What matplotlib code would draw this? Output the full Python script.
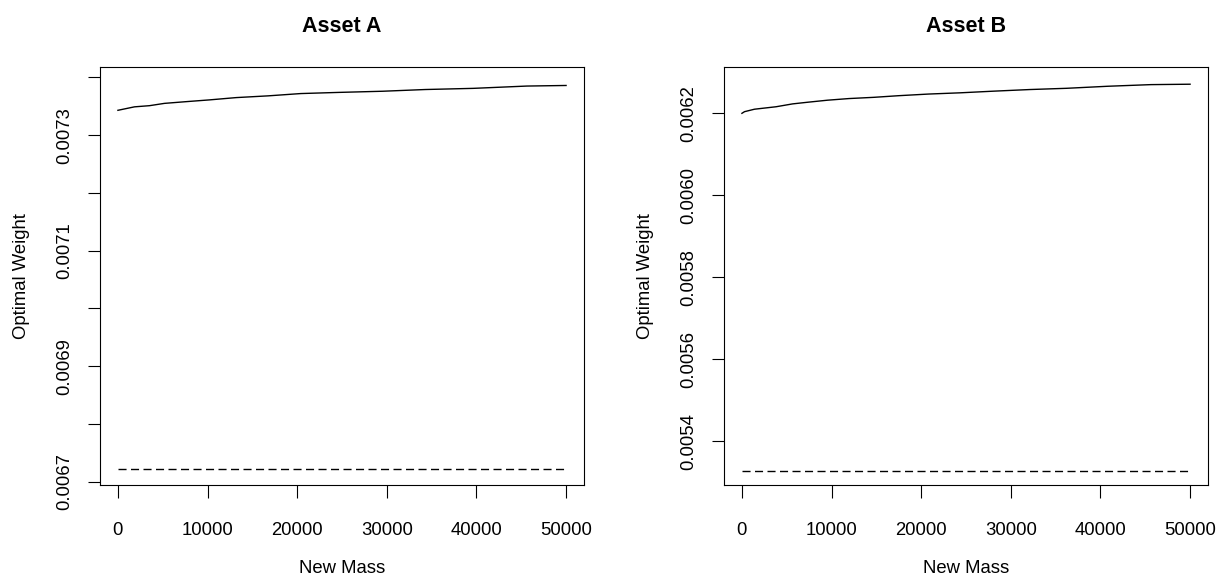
import matplotlib
matplotlib.use("Agg")
import matplotlib.pyplot as plt

plt.rcParams['font.family'] = ['Liberation Sans', 'DejaVu Sans']
plt.rcParams['lines.scale_dashes'] = False

# ---- data ----
mass_a = [0, 1850, 3520, 5190, 7630, 10190, 13190, 16740, 20410, 24630,
          29520, 34300, 39630, 45630, 50000]
weight_a = [0.007343, 0.007349, 0.007351, 0.007355, 0.007358, 0.007361,
            0.007365, 0.007368, 0.007372, 0.007374, 0.007376, 0.007379,
            0.007381, 0.007385, 0.007386]
base_mass_a = [0, 50000]
base_weight_a = [0.006722, 0.006722]

mass_b = [0, 290, 1400, 3810, 5660, 7330, 9550, 11950, 14720, 17500, 20830,
          24350, 28050, 32120, 36200, 40820, 45640, 50000]
weight_b = [0.006200, 0.006204, 0.006210, 0.006216, 0.006223, 0.006227,
            0.006232, 0.006236, 0.006239, 0.006243, 0.006247, 0.006250,
            0.006254, 0.006258, 0.006261, 0.006266, 0.006270, 0.006271]
base_mass_b = [0, 50000]
base_weight_b = [0.005328, 0.005328]

titles = ["Asset A", "Asset B"]
x_ticks = [0, 10000, 20000, 30000, 40000, 50000]
y_ticks_a = [0.0067, 0.0068, 0.0069, 0.0070, 0.0071, 0.0072, 0.0073, 0.0074]
y_labels_a = ["0.0067", "", "0.0069", "", "0.0071", "", "0.0073", ""]
y_ticks_b = [0.0054, 0.0056, 0.0058, 0.0060, 0.0062]
y_labels_b = ["0.0054", "0.0056", "0.0058", "0.0060", "0.0062"]

W, H = 1218, 576
fig = plt.figure(figsize=(W / 100, H / 100), dpi=100)

def px_axes(l, t, r, b):
    return fig.add_axes([l / W, 1 - b / H, (r - l) / W, (b - t) / H])

panels = [
    (px_axes(100, 67, 584, 485), mass_a, weight_a, base_mass_a, base_weight_a,
     y_ticks_a, y_labels_a, (0.006694, 0.007418)),
    (px_axes(724, 67, 1208, 485), mass_b, weight_b, base_mass_b, base_weight_b,
     y_ticks_b, y_labels_b, (0.005293, 0.006313)),
]

FS = 13.3
for (ax, mx, wy, bx, by, yt, yl, ylim), title in zip(panels, titles):
    ax.plot(mx, wy, color='black', lw=1.0)
    dl, = ax.plot(bx, by, color='black', lw=1.0)
    dl.set_dashes([5.8, 3.2])
    ax.set_xlim(-2000, 52000)
    ax.set_ylim(*ylim)
    ax.set_xticks(x_ticks)
    ax.set_xticklabels([str(v) for v in x_ticks], fontsize=FS)
    ax.set_yticks(yt)
    ax.set_yticklabels(yl, fontsize=FS, rotation=90, va='center')
    ax.tick_params(axis='both', length=9, width=0.8, color='black')
    ax.tick_params(axis='x', pad=17.5)
    ax.tick_params(axis='y', pad=10.5)
    for s in ax.spines.values():
        s.set_linewidth(0.8)
        s.set_color('black')
    ax.set_xlabel("New Mass", fontsize=FS, labelpad=15)
    ax.set_ylabel("Optimal Weight", fontsize=FS, labelpad=19)
    ax.set_title(title, fontsize=15.5, fontweight='bold', pad=25)

fig.savefig("out.png", dpi=100)
